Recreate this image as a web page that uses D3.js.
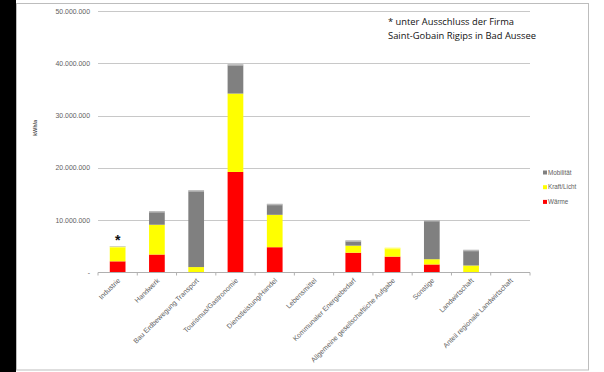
<!DOCTYPE html>
<html><head><meta charset="utf-8">
<script src="https://cdn.jsdelivr.net/npm/d3@7"></script>
<style>html,body{margin:0;padding:0;background:#fff;}svg{display:block;}</style>
</head><body>
<script>
const categories = ["Industrie","Handwerk","Bau Erdbewegung Transport","Tourismus/Gastronomie","Dienstleistung/Handel","Lebensmittel","Kommunaler Energiebedarf","Allgemeine gesellschaftliche Aufgabe","Sonstige","Landwirtschaft","Anteil regionale Landwirtschaft"];
const waerme   = [2100000, 3400000, 0,        19200000, 4800000, 0, 3750000, 3000000, 1500000, 0,       0];
const kraft    = [2800000, 5700000, 1000000,  15000000, 6200000, 0, 1350000, 1700000, 1000000, 1300000, 0];
const mobil    = [100000,  2600000, 14700000, 5600000,  2100000, 0, 1000000, 0,       7500000, 3000000, 0];
const yTicks = [0, 10000000, 20000000, 30000000, 40000000, 50000000];
const seriesNames = ["Wärme","Kraft/Licht","Mobilität"];
const seriesColors = ["#ff0000","#ffff00","#808080"];
const yTitle = "kWh/a";
const noteLines = ["* unter Ausschluss der Firma","Saint-Gobain Rigips in Bad Aussee"];
const starred = ["Industrie"];

const W = 604, H = 372;
const svg = d3.select("body").append("svg").attr("width", W).attr("height", H);
const font = "'Liberation Sans', Arial, sans-serif";

// frame
svg.append("rect").attr("x",0).attr("y",0).attr("width",16).attr("height",H).attr("fill","#000");
svg.append("rect").attr("x",16.5).attr("y",3.5).attr("width",572).attr("height",366.5)
  .attr("fill","#fff").attr("stroke","#bdbdbd").attr("stroke-width",1);

const x = d3.scaleBand().domain(categories).range([98, 530]).paddingInner(0.6).paddingOuter(0.3);
const y = d3.scaleLinear().domain([0, 50000000]).range([272.3, 11]);

// gridlines
svg.append("g").selectAll("line").data(yTicks.filter(d=>d>0)).join("line")
  .attr("x1",98).attr("x2",530).attr("y1",d=>Math.round(y(d))+0.5).attr("y2",d=>Math.round(y(d))+0.5)
  .attr("stroke","#c8c8c8").attr("stroke-width",1);

// y axis labels
const fmt = d => d===0 ? "-" : d3.format(",")(d).replace(/,/g,".");
svg.append("g").selectAll("text").data(yTicks).join("text")
  .attr("x",90).attr("y",d=>y(d)+2.5).attr("text-anchor","end")
  .attr("font-family",font).attr("font-size",6.9).attr("fill","#606060")
  .text(fmt);

// y title
svg.append("text").attr("transform","translate(37,128) rotate(-90)").attr("text-anchor","middle")
  .attr("font-family",font).attr("font-size",5.5).attr("font-weight","bold").attr("fill","#555")
  .text(yTitle);

// stacked bars
const rows = categories.map((c,i)=>({cat:c, w:waerme[i], k:kraft[i], m:mobil[i]}));
const stack = d3.stack().keys(["w","k","m"])(rows);
svg.append("g").selectAll("g").data(stack).join("g")
  .attr("fill",(d,i)=>seriesColors[i])
  .selectAll("rect").data(d=>d.filter(s=>s[1]-s[0]>0)).join("rect")
  .attr("x",d=>x(d.data.cat)).attr("width",x.bandwidth())
  .attr("y",d=>y(d[1])).attr("height",d=>y(d[0])-y(d[1]));
// light cap on top of each bar
svg.append("g").selectAll("rect").data(rows.filter(r=>r.w+r.k+r.m>0)).join("rect")
  .attr("x",d=>x(d.cat)).attr("width",x.bandwidth())
  .attr("y",d=>y(d.w+d.k+d.m)).attr("height",1.5).attr("fill","#fff").attr("opacity",0.45);

// x axis
svg.append("line").attr("x1",98).attr("x2",530).attr("y1",272.5).attr("y2",272.5).attr("stroke","#b0b0b0");
svg.append("g").selectAll("line").data(d3.range(categories.length+1)).join("line")
  .attr("x1",i=>98+i*(432/categories.length)).attr("x2",i=>98+i*(432/categories.length))
  .attr("y1",272.5).attr("y2",275.5).attr("stroke","#b0b0b0");
svg.append("g").selectAll("text").data(categories).join("text")
  .attr("transform",d=>`translate(${x(d)+x.bandwidth()/2+3},${281}) rotate(-45)`)
  .attr("text-anchor","end").attr("font-family",font).attr("font-size",7).attr("fill","#606060")
  .text(d=>d);

// star annotation
svg.append("g").selectAll("text").data(starred).join("text")
  .attr("x",d=>x(d)+x.bandwidth()/2).attr("y",d=>y(waerme[categories.indexOf(d)]+kraft[categories.indexOf(d)]+mobil[categories.indexOf(d)])-1)
  .attr("text-anchor","middle").attr("font-family",font).attr("font-size",14).attr("font-weight","bold").attr("fill","#111").text("*");

// note
svg.append("g").selectAll("text").data(noteLines).join("text")
  .attr("x",388).attr("y",(d,i)=>25+i*13.5)
  .attr("font-family","'Open Sans', sans-serif").attr("font-size",8.6).attr("fill","#111")
  .attr("textLength",(d,i)=>i===0?126:148).attr("lengthAdjust","spacingAndGlyphs")
  .text(d=>d);

// legend
const legOrder = [2,1,0];
const leg = svg.append("g").selectAll("g").data(legOrder).join("g")
  .attr("transform",(d,i)=>`translate(543,${172.5+i*14.7})`);
leg.append("rect").attr("x",0).attr("y",-2).attr("width",4).attr("height",4).attr("fill",d=>seriesColors[d]);
leg.append("text").attr("x",5).attr("y",2.2).attr("font-family",font).attr("font-size",6.3).attr("fill","#606060")
  .text(d=>seriesNames[d]);
</script>
</body></html>
